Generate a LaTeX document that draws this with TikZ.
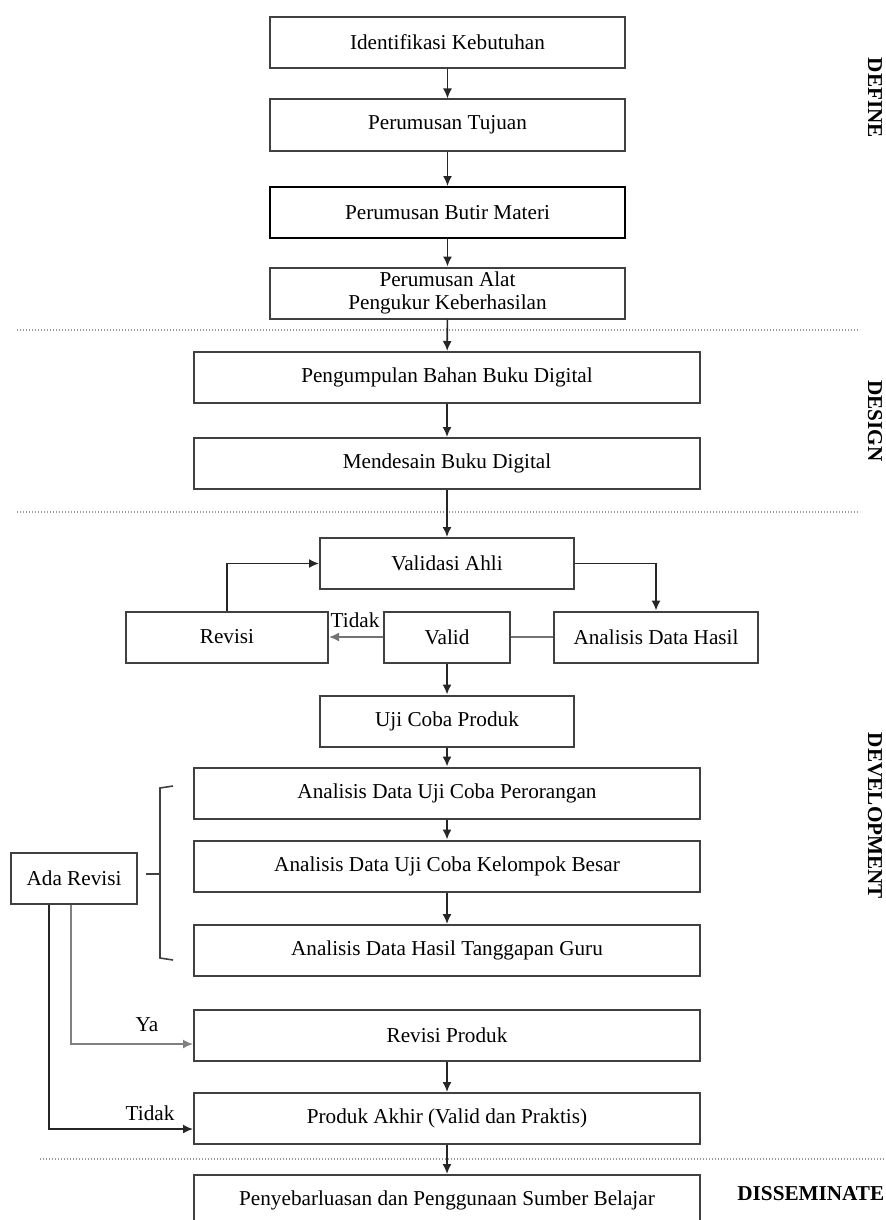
\documentclass[tikz,border=0pt]{standalone}
\usepackage{fontspec}
\setmainfont{Liberation Serif}
\usetikzlibrary{arrows.meta}

\tikzstyle{box}=[draw=black!75, line width=1pt, rectangle, minimum height=25.5pt, inner sep=0pt, align=center, fill=white, font=\fontsize{10.6}{11.5}\selectfont]
\tikzstyle{widebox}=[box, minimum width=253pt]
\tikzstyle{midbox}=[box, minimum width=177.5pt]
\tikzstyle{valbox}=[box, minimum width=127pt]
\tikzstyle{flow}=[draw=black!85, line width=0.8pt, -{Latex[length=5pt,width=4.5pt]}]
\tikzstyle{edge}=[draw=black!55, line width=0.8pt, -]
\tikzstyle{sep}=[draw=black!40, line width=1.2pt, dash pattern=on 0.6pt off 0.9pt]
\tikzstyle{phase}=[font=\fontsize{10.6}{12}\selectfont\bfseries, rotate=-90, inner sep=0pt]
\tikzstyle{lbl}=[font=\fontsize{10.6}{12}\selectfont, inner sep=0pt]

\begin{document}
\begin{tikzpicture}[x=0.5pt,y=-0.5pt]
\useasboundingbox (0,0) rectangle (885,1220);
\clip (0,0) rectangle (885,1220);

\node[midbox] (ident) at (447.5,42.5) {Identifikasi Kebutuhan};
\node[midbox] (tujuan) at (447.5,125) {Perumusan Tujuan};
\node[midbox, draw=black] (butir) at (447.5,212.5) {Perumusan Butir Materi};
\node[midbox] (alat) at (447.5,293) {Perumusan Alat\\Pengukur Keberhasilan};
\draw[flow] (ident) to (tujuan);
\draw[flow] (tujuan) to (butir);
\draw[flow] (butir) to (alat);

\draw[sep] (17,330) -- (860,330);

\node[widebox] (bahan) at (447,377.5) {Pengumpulan Bahan Buku Digital};
\node[widebox] (desain) at (447,463.5) {Mendesain Buku Digital};
\draw[flow] (alat) to (bahan);
\draw[flow] (bahan) to (desain);

\draw[sep] (17,512) -- (860,512);

\node[valbox] (validasi) at (447,563.5) {Validasi Ahli};
\node[box, minimum width=101pt] (revisi) at (227,637) {Revisi};
\node[box, minimum width=63pt] (valid) at (447,637) {Valid};
\node[box, minimum width=102pt] (hasil) at (656,637) {Analisis Data Hasil};
\node[valbox] (uji) at (447,721) {Uji Coba Produk};
\draw[flow] (desain) to (validasi);
\draw[flow] (validasi) -| (hasil);
\draw[edge] (hasil) to (valid);
\draw[flow, draw=black!55] (valid) to (revisi);
\node[lbl] at (355,620) {Tidak};
\draw[flow] (revisi) |- (validasi);
\draw[flow] (valid) to (uji);

\node[widebox] (perorangan) at (447,793) {Analisis Data Uji Coba Perorangan};
\node[widebox] (kelompok) at (447,866) {Analisis Data Uji Coba Kelompok Besar};
\node[widebox] (guru) at (447,950.5) {Analisis Data Hasil Tanggapan Guru};
\draw[flow] (uji) to (perorangan);
\draw[flow] (perorangan) to (kelompok);
\draw[flow] (kelompok) to (guru);

\node[box, minimum width=63pt] (ada) at (74,878) {Ada Revisi};
\coordinate (brtop) at (173,786);
\coordinate (brbot) at (173,960);
\coordinate (brmid) at (146,874);
\draw[edge, draw=black!75] (brtop) -- (160,788) -- (160,958) -- (brbot);
\draw[edge, draw=black!75] (brmid) -- (160,874);

\node[widebox] (revprod) at (447,1035) {Revisi Produk};
\node[widebox] (akhir) at (447,1118.5) {Produk Akhir (Valid dan Praktis)};
\draw[flow] (revprod) to (akhir);
\draw[flow, draw=black!50] ([xshift=-1.5pt]ada.south) |- ([yshift=-4.5pt]revprod.west);
\draw[flow] ([xshift=-12.5pt]ada.south) |- ([yshift=-5.25pt]akhir.west);
\node[lbl] at (147,1025) {Ya};
\node[lbl] at (150,1113) {Tidak};

\draw[sep] (40,1159) -- (885,1159);

\node[widebox] (sebar) at (447,1200.5) {Penyebarluasan dan Penggunaan Sumber Belajar};
\draw[flow] (akhir) to (sebar);

\node[phase] at (875,98) {DEFINE};
\node[phase] at (875,421) {DESIGN};
\node[phase] at (875,816) {DEVELOPMENT};
\node[lbl, font=\fontsize{10.6}{12}\selectfont\bfseries, anchor=west] at (737,1194) {DISSEMINATE};
\end{tikzpicture}
\end{document}
